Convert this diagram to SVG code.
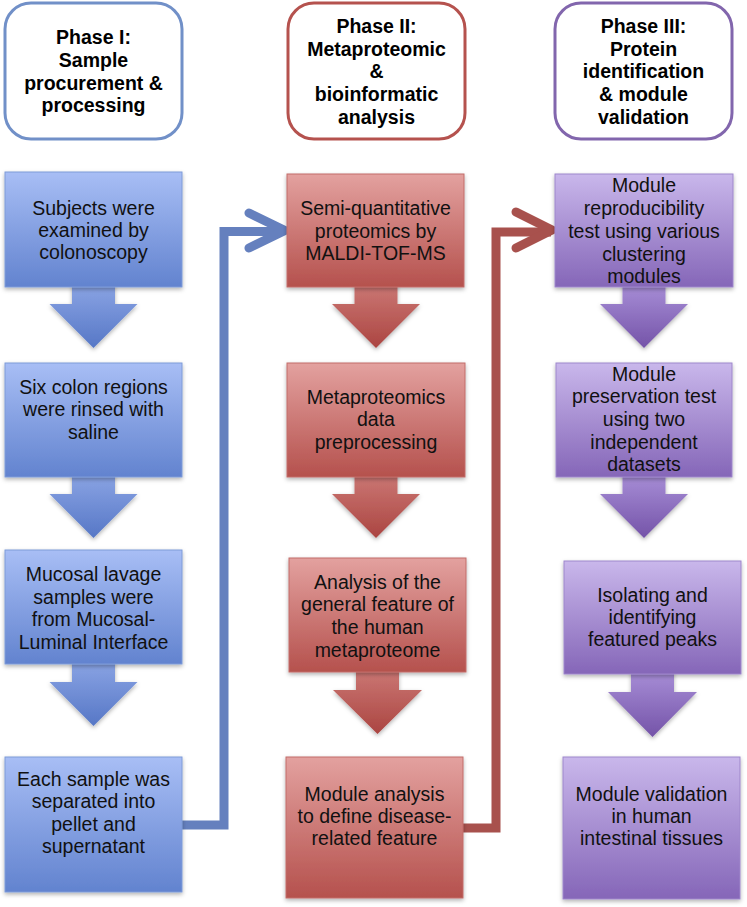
<svg xmlns="http://www.w3.org/2000/svg" width="747" height="907" viewBox="0 0 747 907">
<defs>
<linearGradient id="gB" x1="0" y1="0" x2="0" y2="1"><stop offset="0" stop-color="#a8bef5"/><stop offset="1" stop-color="#6283cf"/></linearGradient>
<linearGradient id="gR" x1="0" y1="0" x2="0" y2="1"><stop offset="0" stop-color="#e3a19f"/><stop offset="1" stop-color="#b5514d"/></linearGradient>
<linearGradient id="gP" x1="0" y1="0" x2="0" y2="1"><stop offset="0" stop-color="#c9b7eb"/><stop offset="1" stop-color="#8566b8"/></linearGradient>
<linearGradient id="aB" x1="0" y1="0" x2="0" y2="1"><stop offset="0" stop-color="#8ea7e6"/><stop offset="1" stop-color="#5677c6"/></linearGradient>
<linearGradient id="aR" x1="0" y1="0" x2="0" y2="1"><stop offset="0" stop-color="#cd7b78"/><stop offset="1" stop-color="#ab4541"/></linearGradient>
<linearGradient id="aP" x1="0" y1="0" x2="0" y2="1"><stop offset="0" stop-color="#ab92da"/><stop offset="1" stop-color="#7453a8"/></linearGradient>
<filter id="sh" x="-10%" y="-10%" width="120%" height="125%"><feDropShadow dx="0" dy="2" stdDeviation="2" flood-color="#000" flood-opacity="0.3"/></filter>
</defs>
<style>
.hdr{fill:#fff;stroke-width:3}
.h{font-family:"Liberation Sans",Arial,sans-serif;font-weight:bold;font-size:19.5px;text-anchor:middle;fill:#000}
.t{font-family:"Liberation Sans",Arial,sans-serif;font-size:19.5px;text-anchor:middle;fill:#111}
.bb{fill:url(#gB);stroke:#7f9bd8;stroke-width:1;filter:url(#sh)}
.rb{fill:url(#gR);stroke:#c26d69;stroke-width:1;filter:url(#sh)}
.pb{fill:url(#gP);stroke:#9e87cb;stroke-width:1;filter:url(#sh)}
.ab{fill:url(#aB);filter:url(#sh)}
.ar{fill:url(#aR);filter:url(#sh)}
.ap{fill:url(#aP);filter:url(#sh)}
.cb{fill:none;stroke:#6580be;stroke-width:9}
.cr{fill:none;stroke:#a8514d;stroke-width:9}
.hd{fill:none;stroke-width:9;stroke-linecap:round;stroke-linejoin:round}
</style>

<g id="connectors">
<path class="ab" d="M72,280 H115 V304 H137.5 L93.5,348 L49.5,304 H72 Z"/>
<path class="ab" d="M72,470 H115 V494 H137.5 L93.5,538 L49.5,494 H72 Z"/>
<path class="ab" d="M72,657 H115 V682 H137.5 L93.5,726 L49.5,682 H72 Z"/>
<path class="ar" d="M354.5,280 H397.5 V304 H420 L376,348 L332,304 H354.5 Z"/>
<path class="ar" d="M354.5,470 H397.5 V494 H420 L376,538 L332,494 H354.5 Z"/>
<path class="ar" d="M356,665 H399 V690 H422 L377.5,734 L333,690 H356 Z"/>
<path class="ap" d="M622.5,280 H665.5 V304 H688 L644,348 L600,304 H622.5 Z"/>
<path class="ap" d="M622.5,470 H665.5 V494 H688 L644,538 L600,494 H622.5 Z"/>
<path class="ap" d="M631,667 H674 V692 H697 L652.5,737 L608,692 H631 Z"/>
<path class="cb" d="M182,825 H224 V231.5 H283"/>
<path class="cb hd" d="M249,213 L285,230.5 L249,248"/>
<path class="cr" d="M463,828 H496 V232 H551"/>
<path class="cr hd" d="M516,212 L552,230 L516,248"/>
</g>

<g id="phase1">
<rect class="hdr" x="5" y="3" width="177" height="136" rx="26" stroke="#7190c8"/>
<text class="h" x="93.5" y="44">Phase I:</text>
<text class="h" x="93.5" y="67">Sample</text>
<text class="h" x="93.5" y="89.5">procurement &amp;</text>
<text class="h" x="93.5" y="112">processing</text>
</g>
<g id="phase2">
<rect class="hdr" x="288" y="3" width="177" height="136" rx="26" stroke="#b5524e"/>
<text class="h" x="376.5" y="33">Phase II:</text>
<text class="h" x="376.5" y="55.5">Metaproteomic</text>
<text class="h" x="376.5" y="78">&amp;</text>
<text class="h" x="376.5" y="101">bioinformatic</text>
<text class="h" x="376.5" y="124">analysis</text>
</g>
<g id="phase3">
<rect class="hdr" x="555" y="3" width="177" height="136" rx="26" stroke="#8266ad"/>
<text class="h" x="643.5" y="33">Phase III:</text>
<text class="h" x="643.5" y="55.5">Protein</text>
<text class="h" x="643.5" y="78">identification</text>
<text class="h" x="643.5" y="101">&amp; module</text>
<text class="h" x="643.5" y="124">validation</text>
</g>

<g id="b1">
<rect class="bb" x="5" y="172" width="177" height="115"/>
<text class="t" x="93.5" y="215">Subjects were</text>
<text class="t" x="93.5" y="237">examined by</text>
<text class="t" x="93.5" y="259">colonoscopy</text>
</g>
<g id="b2">
<rect class="bb" x="5" y="363" width="177" height="114"/>
<text class="t" x="93.5" y="393.5">Six colon regions</text>
<text class="t" x="93.5" y="416">were rinsed with</text>
<text class="t" x="93.5" y="438.5">saline</text>
</g>
<g id="b3">
<rect class="bb" x="5" y="550" width="177" height="114"/>
<text class="t" x="93.5" y="581">Mucosal lavage</text>
<text class="t" x="93.5" y="603.5">samples were</text>
<text class="t" x="93.5" y="626">from Mucosal-</text>
<text class="t" x="93.5" y="648.5">Luminal Interface</text>
</g>
<g id="b4">
<rect class="bb" x="5" y="757" width="177" height="135"/>
<text class="t" x="93.5" y="786">Each sample was</text>
<text class="t" x="93.5" y="808">separated into</text>
<text class="t" x="93.5" y="830.5">pellet and</text>
<text class="t" x="93.5" y="853">supernatant</text>
</g>

<g id="r1">
<rect class="rb" x="287" y="174" width="177" height="113"/>
<text class="t" x="375.5" y="215">Semi-quantitative</text>
<text class="t" x="375.5" y="237.5">proteomics by</text>
<text class="t" x="375.5" y="260">MALDI-TOF-MS</text>
</g>
<g id="r2">
<rect class="rb" x="287" y="363" width="178" height="114"/>
<text class="t" x="376" y="404">Metaproteomics</text>
<text class="t" x="376" y="426">data</text>
<text class="t" x="376" y="448.5">preprocessing</text>
</g>
<g id="r3">
<rect class="rb" x="289" y="558" width="177" height="114"/>
<text class="t" x="377.5" y="588.5">Analysis of the</text>
<text class="t" x="377.5" y="611">general feature of</text>
<text class="t" x="377.5" y="633.5">the human</text>
<text class="t" x="377.5" y="656.5">metaproteome</text>
</g>
<g id="r4">
<rect class="rb" x="286" y="757" width="177" height="141"/>
<text class="t" x="374.5" y="801">Module analysis</text>
<text class="t" x="374.5" y="823">to define disease-</text>
<text class="t" x="374.5" y="844.5">related feature</text>
</g>

<g id="p1">
<rect class="pb" x="555" y="174" width="178" height="113"/>
<text class="t" x="644" y="192">Module</text>
<text class="t" x="644" y="215">reproducibility</text>
<text class="t" x="644" y="237.5">test using various</text>
<text class="t" x="644" y="260.5">clustering</text>
<text class="t" x="644" y="283">modules</text>
</g>
<g id="p2">
<rect class="pb" x="556" y="363" width="176" height="114"/>
<text class="t" x="644" y="380.5">Module</text>
<text class="t" x="644" y="403">preservation test</text>
<text class="t" x="644" y="425.5">using two</text>
<text class="t" x="644" y="448.5">independent</text>
<text class="t" x="644" y="471">datasets</text>
</g>
<g id="p3">
<rect class="pb" x="564" y="561" width="177" height="113"/>
<text class="t" x="652.5" y="601.5">Isolating and</text>
<text class="t" x="652.5" y="623.5">identifying</text>
<text class="t" x="652.5" y="646">featured peaks</text>
</g>
<g id="p4">
<rect class="pb" x="563" y="757" width="177" height="142"/>
<text class="t" x="651.5" y="801">Module validation</text>
<text class="t" x="651.5" y="823">in human</text>
<text class="t" x="651.5" y="844.5">intestinal tissues</text>
</g>
</svg>
